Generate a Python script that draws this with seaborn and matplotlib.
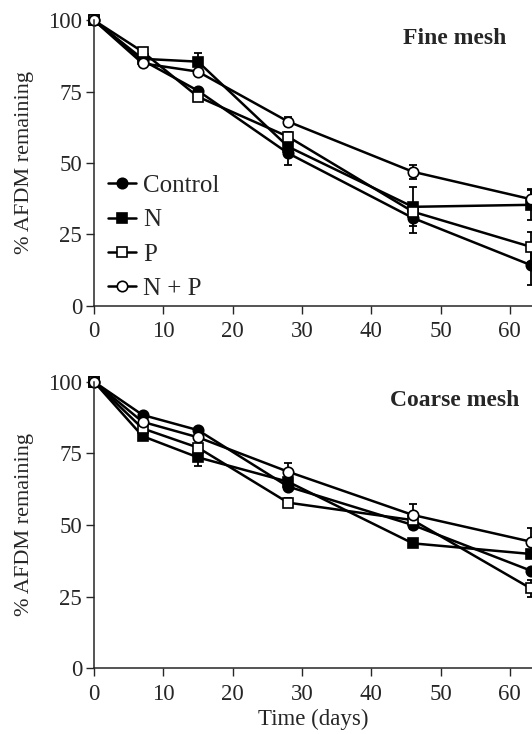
import numpy as np
import pandas as pd
import matplotlib
matplotlib.use("Agg")
import matplotlib.pyplot as plt
import seaborn as sns

# sampling days
days = [0, 7, 15, 28, 46, 63]
treatments = ['Control', 'N', 'P', 'N + P']

# % AFDM remaining, fine mesh bags
fine_control = [100, 86.0, 75.3, 53.4, 30.7, 14.2]
fine_n = [100, 86.5, 85.5, 55.7, 34.6, 35.3]
fine_p = [100, 89.0, 73.2, 59.2, 32.9, 20.6]
fine_np = [100, 84.9, 82.0, 64.5, 46.9, 37.3]

fine_control_se = [0, 0, 0, 4.3, 5.2, 7.0]
fine_n_se = [0, 0, 3.2, 0, 6.8, 5.3]
fine_p_se = [0, 0, 0, 1.5, 3.0, 5.3]
fine_np_se = [0, 0, 0, 1.5, 2.5, 3.5]

# % AFDM remaining, coarse mesh bags
coarse_control = [100, 88.4, 83.1, 63.4, 50.0, 34.1]
coarse_n = [100, 81.0, 73.6, 65.1, 43.6, 39.9]
coarse_p = [100, 83.7, 77.0, 57.8, 51.7, 27.9]
coarse_np = [100, 86.0, 80.6, 68.6, 53.5, 44.2]

coarse_control_se = [0, 0, 0, 0, 1.5, 0]
coarse_n_se = [0, 0, 3.1, 0, 0, 1.5]
coarse_p_se = [0, 0, 0, 1.5, 0, 2.9]
coarse_np_se = [0, 0, 0, 3.1, 3.8, 4.9]

sns.set_style("ticks")
plt.rcParams['font.family'] = ['Liberation Serif', 'DejaVu Serif']

# marker shape and fill per treatment
markers = {'Control': ('o', 'black'), 'N': ('s', 'black'),
           'P': ('s', 'white'), 'N + P': ('o', 'white')}


def draw_panel(ax, means, errs, title, show_legend=False):
    for trt, m, e in zip(treatments, means, errs):
        df = pd.DataFrame({'day': days, 'afdm': m})
        ax.errorbar(days, m, yerr=e, fmt='none', ecolor='black',
                    elinewidth=1.3, capsize=3, capthick=1.3, zorder=1.5,
                    clip_on=False)
        sns.lineplot(data=df, x='day', y='afdm', ax=ax, color='black',
                     marker=markers[trt][0], markerfacecolor=markers[trt][1],
                     markeredgecolor='black', markeredgewidth=1.2,
                     markersize=7.5, linewidth=1.8, label=trt, clip_on=False)
    ax.set_xlim(0, 63.2)
    ax.set_ylim(0, 100)
    ax.set_xticks(range(0, 61, 10))
    ax.set_yticks([0, 25, 50, 75, 100])
    ax.set_xlabel('')
    ax.set_ylabel('% AFDM remaining', fontsize=16, labelpad=10)
    ax.tick_params(direction='out', length=6, width=1, labelsize=16.5, pad=2.5)
    ax.tick_params(axis='x', pad=5)
    for s in ['left', 'bottom']:
        ax.spines[s].set_linewidth(1.1)
    sns.despine(ax=ax)
    ax.text(52, 93.5, title, fontsize=17, fontweight='bold',
            ha='center', va='center')
    if show_legend:
        ax.legend(loc='lower left', bbox_to_anchor=(0.01, -0.015),
                  frameon=False, fontsize=18, handlelength=1.1,
                  handletextpad=0.3, labelspacing=0.47, borderaxespad=0)
    else:
        ax.get_legend().remove()


fig = plt.figure(figsize=(5.32, 7.34), dpi=100)
ax1 = fig.add_axes([94 / 532, 428.5 / 734, 1 - 94 / 532, 285.2 / 734])
ax2 = fig.add_axes([94 / 532, 65.7 / 734, 1 - 94 / 532, 286.6 / 734])

draw_panel(ax1, [fine_control, fine_n, fine_p, fine_np],
           [fine_control_se, fine_n_se, fine_p_se, fine_np_se],
           'Fine mesh', show_legend=True)
draw_panel(ax2, [coarse_control, coarse_n, coarse_p, coarse_np],
           [coarse_control_se, coarse_n_se, coarse_p_se, coarse_np_se],
           'Coarse mesh')
ax2.set_xlabel('Time (days)', fontsize=16.5, labelpad=3)

fig.savefig('out.png', dpi=100)
